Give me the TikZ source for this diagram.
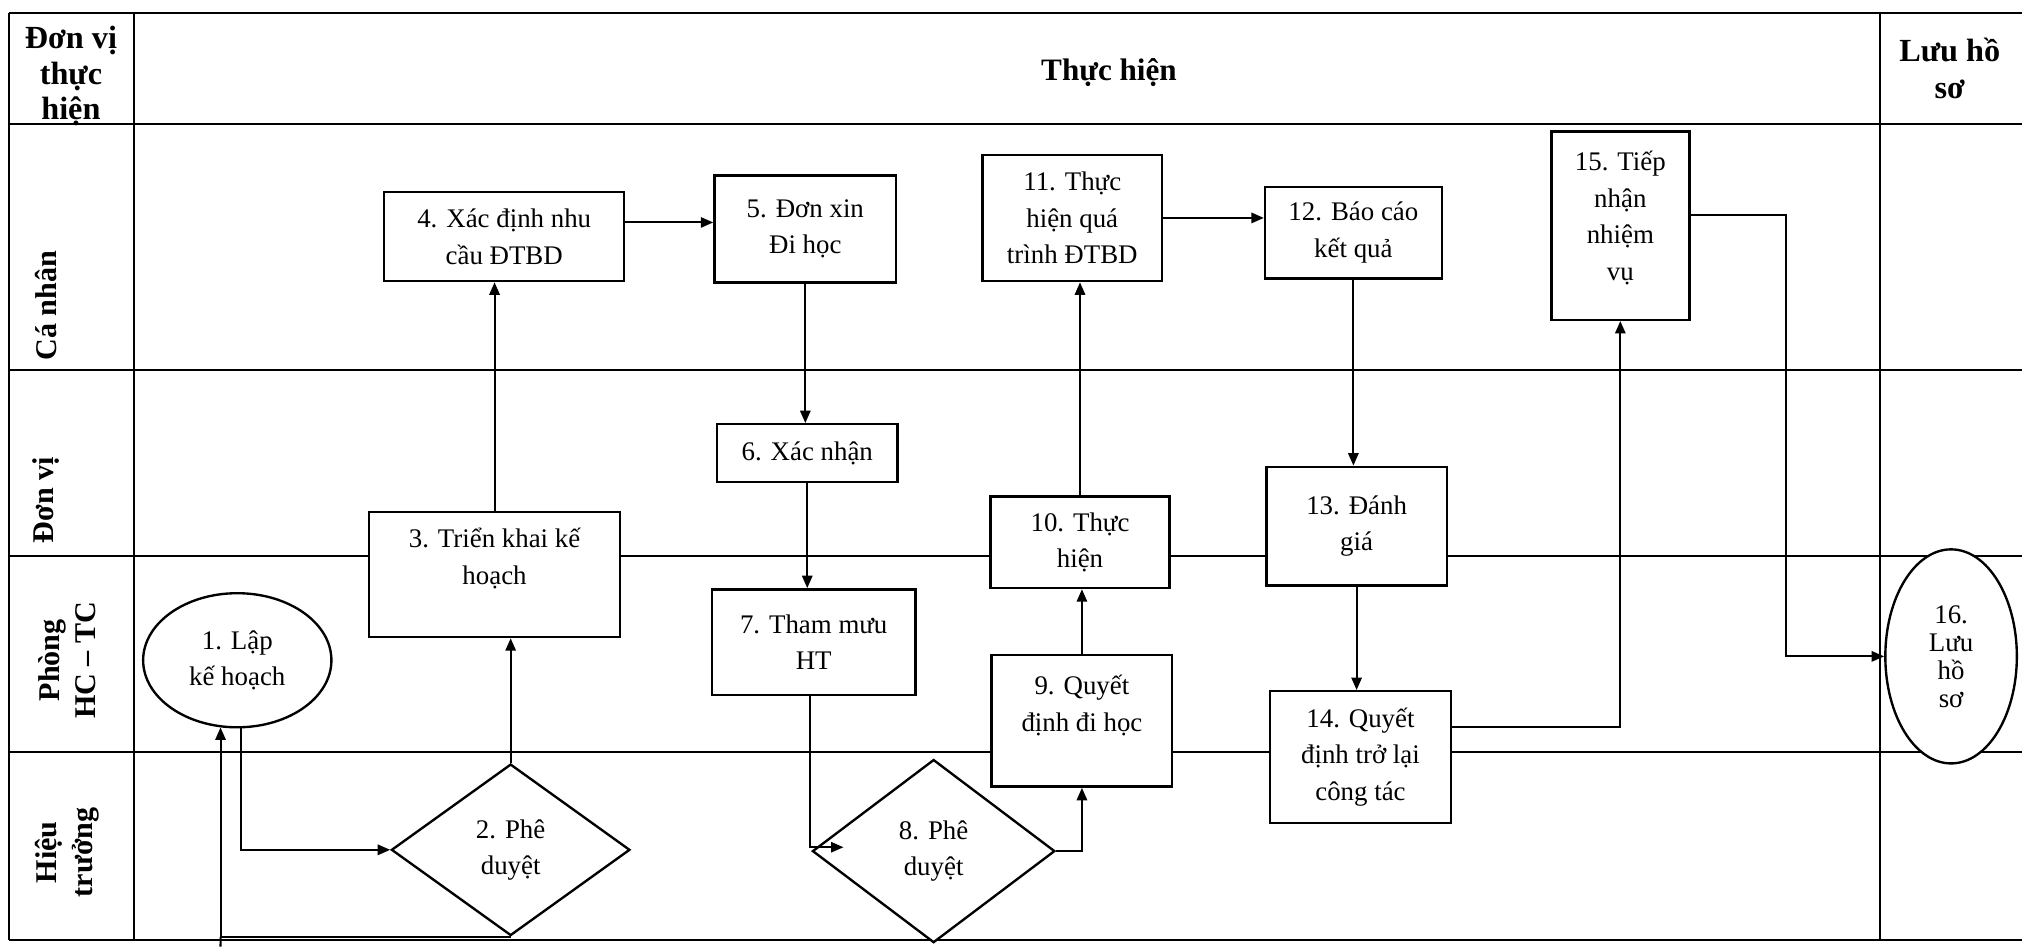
\documentclass[tikz,border=0pt]{standalone}
\usepackage{fontspec}
\setmainfont{Liberation Serif}
\usetikzlibrary{shapes.geometric,arrows.meta,calc}
\begin{document}
\begin{tikzpicture}[x=0.6pt,y=-0.6pt,
  every node/.style={font=\fontsize{12.5}{17}\selectfont, align=center},
  box/.style={draw, line width=1.1pt, fill=white, rectangle, inner sep=2pt},
  oval/.style={draw, line width=1.1pt, fill=white, ellipse, inner sep=0pt},
  dia/.style={draw, line width=1.1pt, fill=white, diamond, inner sep=0pt},
  grid/.style={line width=0.9pt},
  arr/.style={line width=0.95pt, -{Triangle[length=5.8pt,width=4.8pt]}},
  lane/.style={font=\fontsize{14}{17}\selectfont\bfseries, rotate=90},
  head/.style={font=\fontsize{15}{16.5}\selectfont\bfseries},
]
\useasboundingbox (0,0) rectangle (1568,734);
\fill[white] (0,0) rectangle (1568,734);
% table
\foreach \yy in {10,96,287,431,583,729} \draw[grid] (7,\yy) -- (1568,\yy);
\foreach \xx in {7,104,1458} \draw[grid] (\xx,10) -- (\xx,729);
% headers
\node[head] (h1) at (55,59) {Đơn vị\\thực\\hiện};
\node[head, font=\fontsize{14.5}{17}\selectfont\bfseries] (h2) at (860,56) {Thực hiện};
\node[head, font=\fontsize{15}{17}\selectfont\bfseries] (h3) at (1512,53) {Lưu hồ\\sơ};
% lanes
\node[lane] (l1) at (36,237) {Cá nhân};
\node[lane] (l2) at (36,388) {Đơn vị};
\node[lane] (l3) at (52,512) {Phòng\\HC – TC};
\node[lane] (l4) at (52,661) {Hiệu\\trưởng};
% nodes
\node[oval, minimum width=87.6pt, minimum height=62.4pt] (n1) at (184,512) {1. Lập\\kế hoạch};
\node[dia, minimum width=111pt, minimum height=79.8pt] (n2) at (396,659) {2. Phê\\duyệt};
\node[box, minimum width=117pt, minimum height=58.2pt] (n3) at (383.5,445.5) {};
\node (t3) at (383.5,433) {3. Triển khai kế\\hoạch};
\node[box, minimum width=111.6pt, minimum height=41.4pt] (n4) at (391,183.5) {4. Xác định nhu\\cầu ĐTBD};
\node[box, minimum width=84.6pt, minimum height=49.8pt] (n5) at (624.5,177.5) {5. Đơn xin\\Đi học};
\node[box, minimum width=84pt, minimum height=27pt] (n6) at (626,351.5) {6. Xác nhận};
\node[box, minimum width=94.8pt, minimum height=49.2pt] (n7) at (631,498) {7. Tham mưu\\HT};
\node[dia, minimum width=112.8pt, minimum height=85.2pt] (n8) at (724,660) {8. Phê\\duyệt};
\node[box, minimum width=84pt, minimum height=61.2pt] (n9) at (839,559) {};
\node (t9) at (839,547) {9. Quyết\\định đi học};
\node[box, minimum width=83.4pt, minimum height=42.6pt] (n10) at (837.5,420.5) {10. Thực\\hiện};
\node[box, minimum width=83.4pt, minimum height=58.8pt] (n11) at (831.5,169) {11. Thực\\hiện quá\\trình ĐTBD};
\node[box, minimum width=82.2pt, minimum height=42.6pt] (n12) at (1049.5,180.5) {12. Báo cáo\\kết quả};
\node[box, minimum width=84pt, minimum height=55.2pt] (n13) at (1052,408) {13. Đánh\\giá};
\node[box, minimum width=84pt, minimum height=61.2pt] (n14) at (1055,587) {14. Quyết\\định trở lại\\công tác};
\node[box, minimum width=64.2pt, minimum height=87.6pt] (n15) at (1256.5,175) {};
\node (t15) at (1256.5,169) {15. Tiếp\\nhận\\nhiệm\\vụ};
\node[oval, minimum width=61.2pt, minimum height=99.6pt, font=\fontsize{12.5}{13}\selectfont] (n16) at (1513,509) {16.\\Lưu\\hồ\\sơ};
% connectors
\draw[arr] (n1.-87) |- (n2.west);
\coordinate (c21) at (n1.-104 |- n2.south);
\draw[arr] (n2.south) -- (c21) -- (n1.-104);
\coordinate (c21b) at (171,734);
\draw[line width=0.95pt] (c21) -- (c21b);
\draw[arr] (n2.north) -- (n2.north |- n3.south);
\draw[arr] (n3.north) -- (n3.north |- n4.south);
\draw[arr] ($(n4.east)+(0,-11)$) -- ($(n4.east -| n5.west)+(0,-11)$);
\draw[arr] (n5.south) -- (n5.south |- n6.north);
\draw[arr] (n6.south) -- (n6.south |- n7.north);
\draw[arr] ($(n7.south)+(-3,0)$) |- ($(n8.west)+(25,-3)$);
\draw[arr] (n8.east) -| (n9.south);
\draw[arr] (n9.north) -- (n9.north |- n10.south);
\draw[arr] (n10.north) -- (n10.north |- n11.south);
\draw[arr] (n11.east) -- (n11.east -| n12.west);
\draw[arr] (n12.south) -- (n12.south |- n13.north);
\draw[arr] (n13.south) -- (n13.south |- n14.north);
\draw[arr] ($(n14.east)+(0,-23)$) -| (n15.south);
\draw[arr] ($(n15.east)+(0,-8)$) -- ++(74,0) |- (n16.west);
\end{tikzpicture}
\end{document}
